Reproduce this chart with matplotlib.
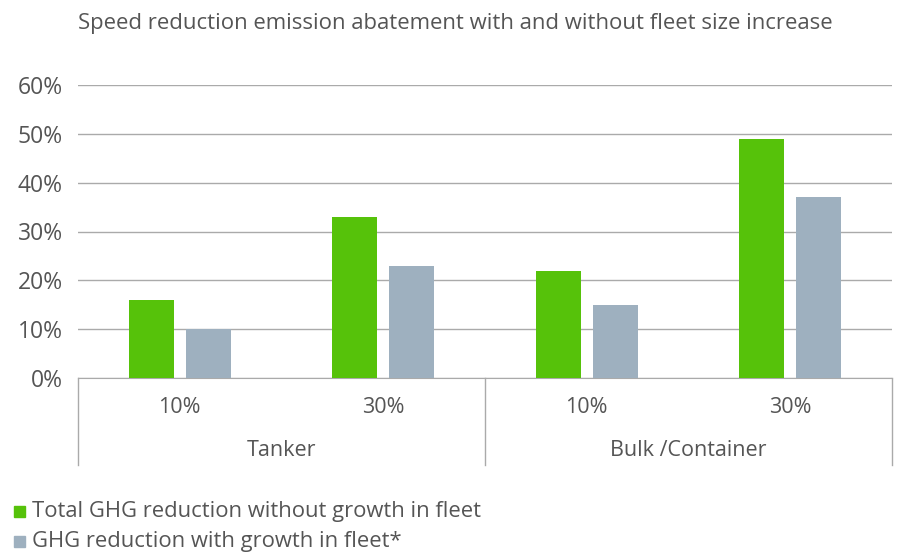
import matplotlib.pyplot as plt
from matplotlib.patches import Rectangle

# data
speed_labels = ['10%', '30%', '10%', '30%']
ship_types = ['Tanker', 'Bulk /Container']
no_growth = [0.16, 0.33, 0.22, 0.49]
with_growth = [0.10, 0.23, 0.15, 0.37]
series_names = ['Total GHG reduction without growth in fleet',
                'GHG reduction with growth in fleet*']

green = '#56c20a'
grey = '#9eb0bf'
txt = '#555555'
line_c = '#aaaaaa'

plt.rcParams['font.family'] = ['Open Sans', 'DejaVu Sans']

fig = plt.figure(figsize=(9, 5.57), dpi=100)
ax = fig.add_axes([78/900, 1-378/557, (892-78)/900, (378-85)/557])

x = list(range(len(speed_labels)))
ax.bar([i - 0.14 for i in x], no_growth, width=0.22, color=green, zorder=3)
ax.bar([i + 0.14 for i in x], with_growth, width=0.22, color=grey, zorder=3)

ax.set_xlim(-0.5, len(x) - 0.5)
ax.set_ylim(0, 0.6)
ax.set_yticks([0, 0.1, 0.2, 0.3, 0.4, 0.5, 0.6])
ax.set_yticklabels(['%d%%' % round(v*100) for v in ax.get_yticks()],
                   fontsize=16.5, color=txt)
ax.tick_params(axis='y', length=0, pad=11)
ax.set_xticks([])
ax.grid(axis='y', color=line_c, linewidth=1, zorder=0)
for s in ['top', 'right', 'left']:
    ax.spines[s].set_visible(False)
ax.spines['bottom'].set_color(line_c)

# two-level category axis
lo = -0.297
for i in x:
    ax.text(i, -0.099, speed_labels[i], transform=ax.get_xaxis_transform(),
            ha='center', va='center', fontsize=15.5, color=txt)
for k, name in enumerate(ship_types):
    ax.text(2*k + 0.5, -0.246, name, transform=ax.get_xaxis_transform(),
            ha='center', va='center', fontsize=15.5, color=txt)
for xv in [-0.5, 1.5, 3.5]:
    ax.plot([xv, xv], [0, lo], transform=ax.get_xaxis_transform(),
            color=line_c, linewidth=1, clip_on=False)

fig.text(78/900, 1-24/557,
         'Speed reduction emission abatement with and without fleet size increase',
         ha='left', va='center', fontsize=15.9, color=txt)

# legend
for j, (name, c) in enumerate(zip(series_names, [green, grey])):
    yc = 1 - (511 + 30*j)/557
    fig.patches.append(Rectangle((14/900, yc - 6/557), 11/900, 11/557,
                                 transform=fig.transFigure, color=c))
    fig.text(32/900, yc, name, ha='left', va='center', fontsize=15.8, color=txt)

fig.savefig('out.png', dpi=100)
